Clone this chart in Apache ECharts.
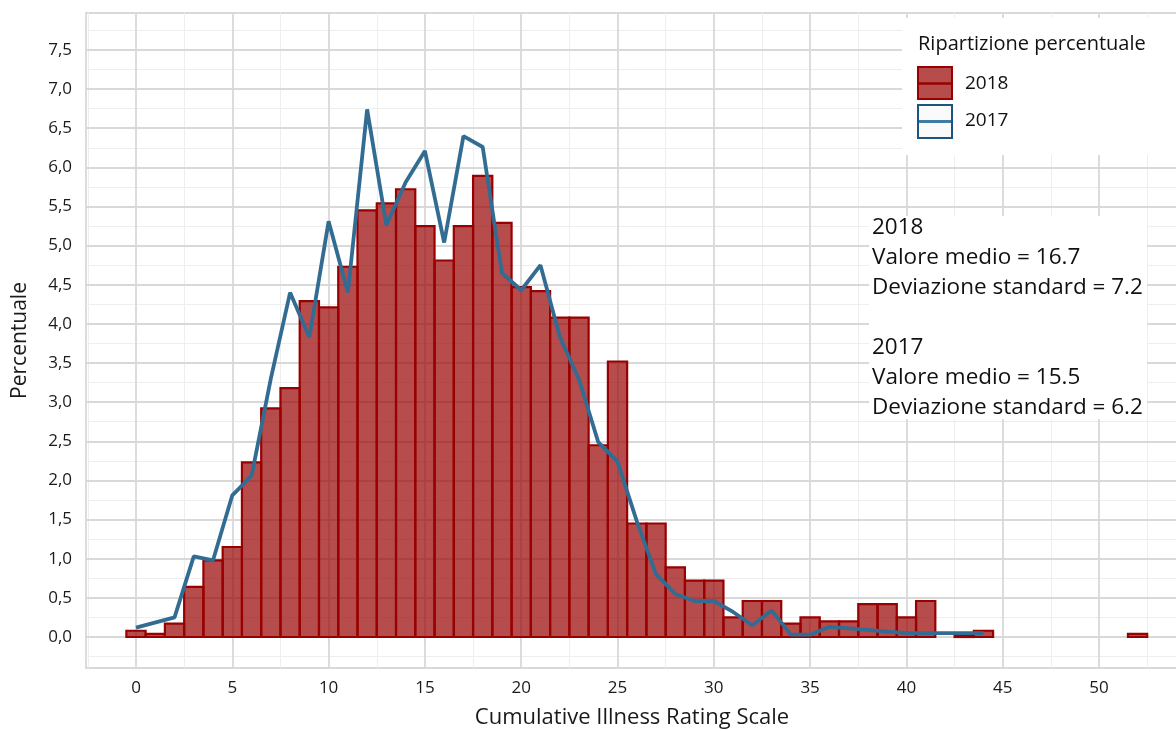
<!DOCTYPE html>
<html>
<head>
<meta charset="utf-8">
<script src="https://cdn.jsdelivr.net/npm/echarts@6/dist/echarts.min.js"></script>
<style>
html,body{margin:0;padding:0;background:#fff;}
#chart{width:1176px;height:731px;}
</style>
</head>
<body>
<div id="chart"></div>
<script>
// ---- data ----
const scores2018 = [0,1,2,3,4,5,6,7,8,9,10,11,12,13,14,15,16,17,18,19,20,21,22,23,24,25,26,27,28,29,30,31,32,33,34,35,36,37,38,39,40,41,42,43,44,45,46,47,48,49,50,51,52];
const pct2018 = [0.08,0.04,0.17,0.64,0.98,1.15,2.23,2.92,3.18,4.29,4.21,4.73,5.45,5.54,5.72,5.25,4.81,5.25,5.89,5.29,4.47,4.42,4.08,4.08,2.45,3.52,1.45,1.45,0.89,0.72,0.72,0.25,0.46,0.46,0.17,0.25,0.20,0.20,0.42,0.42,0.25,0.46,0,0.02,0.08,0,0,0,0,0,0,0,0.04];
const scores2017 = [0,1,2,3,4,5,6,7,8,9,10,11,12,13,14,15,16,17,18,19,20,21,22,23,24,25,26,27,28,29,30,31,32,33,34,35,36,37,38,39,40,41,42,43,44];
const pct2017 = [0.12,null,0.25,1.03,0.98,1.81,2.06,3.3,4.40,3.83,5.31,4.40,6.74,5.26,5.81,6.21,5.04,6.40,6.26,4.65,4.43,4.75,3.84,3.29,2.49,2.24,1.48,0.80,0.55,0.46,0.46,0.32,0.15,0.34,0.03,0.03,0.13,0.11,0.09,0.07,0.05,0.05,0.05,0.05,0.05];
const xTicks = [0,5,10,15,20,25,30,35,40,45,50];
const xMinor = [-2.5,2.5,7.5,12.5,17.5,22.5,27.5,32.5,37.5,42.5,47.5,52.5];
const yTicks = [0,0.5,1,1.5,2,2.5,3,3.5,4,4.5,5,5.5,6,6.5,7,7.5];
const yMinor = [-0.25,0.25,0.75,1.25,1.75,2.25,2.75,3.25,3.75,4.25,4.75,5.25,5.75,6.25,6.75,7.25,7.75];
const stats = [
  {year:'2018', mean:'16.7', sd:'7.2'},
  {year:'2017', mean:'15.5', sd:'6.2'}
];

const FONT = '"Open Sans", "Noto Sans", sans-serif';
const TXT = '#1a1a1a';
const MAJ = '#d9d9d9';
const MIN = '#eeeeee';
const X_MIN = -2.596, X_MAX = 54.1, Y_MIN = -0.396, Y_MAX = 7.972;

const chart = echarts.init(document.getElementById('chart'), null, {renderer:'canvas'});

const barData = scores2018.map((s,i)=>[s,pct2018[i]]).filter(d=>d[1]>0);
const lineData = scores2017.map((s,i)=>[s,pct2017[i]]);

function minorAxis(vals, extra){
  return Object.assign({
    type:'value', z:0, offset:0,
    axisLine:{show:false}, axisLabel:{show:false, customValues:vals},
    axisTick:{show:false, customValues:vals},
    splitLine:{show:true, lineStyle:{color:MIN, width:1}}
  }, extra);
}

const stLines = [];
stats.forEach(s=>{
  stLines.push(s.year, 'Valore medio = '+s.mean, 'Deviazione standard = '+s.sd, '');
});
stLines.pop();
const annTexts = stLines.map((t,i)=>({
  type:'text', x:872, y:228+i*30, z:11,
  style:{text:t, font:'22.5px '+FONT, fill:'#111', verticalAlign:'middle', align:'left'}
}));

chart.setOption({
  animation:false,
  backgroundColor:'#ffffff',
  grid:{left:86, top:13, right:-2, bottom:63, show:true, borderColor:MAJ, borderWidth:1.8,
        containLabel:false, outerBoundsMode:'none'},
  xAxis:[
    minorAxis(xMinor,{min:X_MIN,max:X_MAX, position:'bottom'}),
    {
      type:'value', z:1, min:X_MIN, max:X_MAX, position:'bottom', offset:0,
      name:'Cumulative Illness Rating Scale', nameLocation:'middle', nameGap:39,
      nameTextStyle:{fontFamily:FONT, fontSize:22, color:TXT},
      axisLine:{show:false},
      axisTick:{show:true, customValues:xTicks, length:7, lineStyle:{color:MAJ, width:1.8}},
      axisLabel:{customValues:xTicks, margin:12, fontFamily:FONT, fontSize:17, color:TXT},
      splitLine:{show:true, lineStyle:{color:MAJ, width:1.8}}
    }
  ],
  yAxis:[
    minorAxis(yMinor,{min:Y_MIN,max:Y_MAX, position:'left'}),
    {
      type:'value', z:1, min:Y_MIN, max:Y_MAX, position:'left', offset:0,
      name:'Percentuale', nameLocation:'middle', nameGap:55,
      nameTextStyle:{fontFamily:FONT, fontSize:21, color:TXT},
      axisLine:{show:false},
      axisTick:{show:true, customValues:yTicks, length:8, lineStyle:{color:MAJ, width:1.8}},
      axisLabel:{customValues:yTicks, margin:14, fontFamily:FONT, fontSize:17, color:TXT,
        formatter:v=>v.toFixed(1).replace('.',',')},
      splitLine:{show:true, lineStyle:{color:MAJ, width:1.8}}
    }
  ],
  series:[
    {
      name:'2018', type:'custom', xAxisIndex:1, yAxisIndex:1, z:3,
      data:barData,
      renderItem:function(params, api){
        const x = api.value(0), y = api.value(1);
        const p0 = api.coord([x-0.5, y]);
        const p1 = api.coord([x+0.5, 0]);
        return {
          type:'rect',
          shape:{x:p0[0], y:p0[1], width:p1[0]-p0[0], height:p1[1]-p0[1]},
          style:{fill:'rgba(153,0,0,0.7)', stroke:'#990000', lineWidth:2.2}
        };
      }
    },
    {
      name:'2017', type:'line', xAxisIndex:1, yAxisIndex:1, z:4,
      data:lineData, connectNulls:true, showSymbol:false, symbol:'none',
      lineStyle:{color:'#326c93', width:3.8}
    }
  ],
  graphic:[
    {type:'rect', x:902, y:18, z:10, shape:{width:280, height:137}, style:{fill:'#ffffff'}},
    {type:'text', x:918, y:44, z:11, style:{text:'Ripartizione percentuale', font:'20px '+FONT, fill:'#111', verticalAlign:'middle'}},
    {type:'rect', x:918, y:67, z:11, shape:{width:34, height:32}, style:{fill:'rgba(153,0,0,0.7)', stroke:'#990000', lineWidth:2}},
    {type:'line', z:12, shape:{x1:919, y1:83.5, x2:951, y2:83.5}, style:{stroke:'#990000', lineWidth:2.5}},
    {type:'text', x:965, y:84, z:11, style:{text:'2018', font:'19px '+FONT, fill:'#111', verticalAlign:'middle'}},
    {type:'rect', x:918, y:105, z:11, shape:{width:34, height:33}, style:{fill:'#fafafa', stroke:'#1d5580', lineWidth:2}},
    {type:'line', z:12, shape:{x1:919, y1:121.5, x2:951, y2:121.5}, style:{stroke:'#3f7ca5', lineWidth:3}},
    {type:'text', x:965, y:121, z:11, style:{text:'2017', font:'19px '+FONT, fill:'#111', verticalAlign:'middle'}},
    {type:'rect', x:869, y:216, z:10, shape:{width:278, height:203}, style:{fill:'#ffffff'}}
  ].concat(annTexts)
});
</script>
</body>
</html>
